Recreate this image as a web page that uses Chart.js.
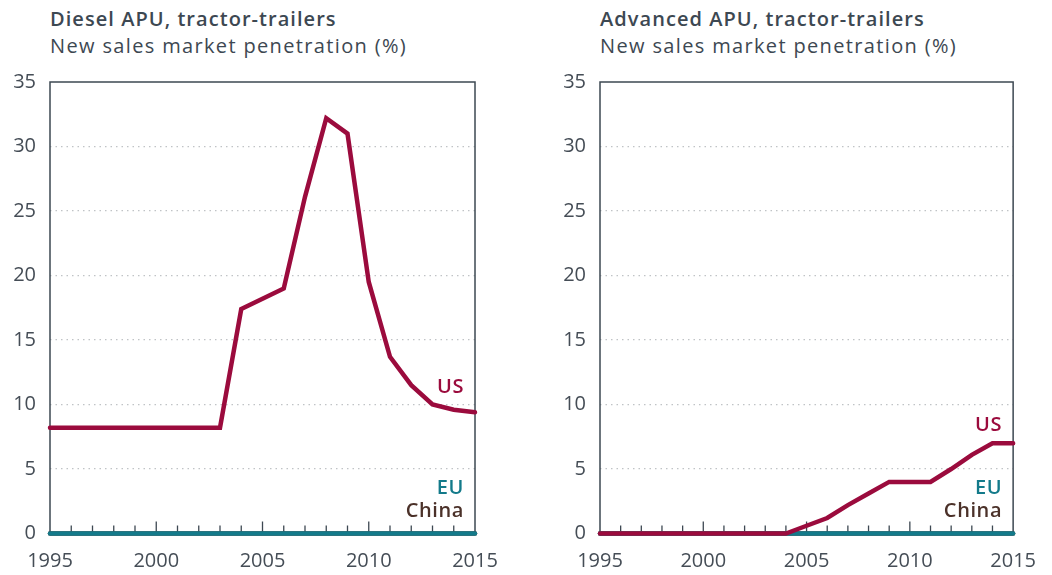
<!DOCTYPE html>
<html>
<head>
<meta charset="utf-8">
<script src="https://cdn.jsdelivr.net/npm/chart.js@4"></script>
<style>
  body { margin: 0; background: #fff; width: 1052px; height: 575px; overflow: hidden; position: relative; font-family: "Open Sans", sans-serif; }
  canvas { position: absolute; top: 0; }
  .ttl { position: absolute; color: #3d4852; font-size: 20px; line-height: 27px; white-space: nowrap; letter-spacing: 1.35px; }
  .ttl b { font-weight: 600; letter-spacing: 1.05px; }
</style>
</head>
<body>
<div class="ttl" style="left:50px;top:5px"><b>Diesel APU, tractor-trailers</b><br>New sales market penetration (%)</div>
<div class="ttl" style="left:600px;top:5px"><b>Advanced APU, tractor-trailers</b><br>New sales market penetration (%)</div>
<canvas id="dieselChart" width="520" height="575" style="left:0"></canvas>
<canvas id="advancedChart" width="502" height="575" style="left:550px"></canvas>
<script>
const years = ['1995','1996','1997','1998','1999','2000','2001','2002','2003','2004','2005',
               '2006','2007','2008','2009','2010','2011','2012','2013','2014','2015'];
const yTicks = [0, 5, 10, 15, 20, 25, 30, 35];

const dieselUS    = [8.2, 8.2, 8.2, 8.2, 8.2, 8.2, 8.2, 8.2, 8.2, 17.4, 18.2, 19.0, 26.1, 32.2, 31.0, 19.5, 13.7, 11.5, 10.0, 9.6, 9.4];
const dieselEU    = [0, 0, 0, 0, 0, 0, 0, 0, 0, 0, 0, 0, 0, 0, 0, 0, 0, 0, 0, 0, 0];
const dieselChina = [0, 0, 0, 0, 0, 0, 0, 0, 0, 0, 0, 0, 0, 0, 0, 0, 0, 0, 0, 0, 0];

const advancedUS    = [0, 0, 0, 0, 0, 0, 0, 0, 0, 0, 0.6, 1.2, 2.2, 3.1, 4.0, 4.0, 4.0, 5.0, 6.1, 7.0, 7.0];
const advancedEU    = [0, 0, 0, 0, 0, 0, 0, 0, 0, 0, 0, 0, 0, 0, 0, 0, 0, 0, 0, 0, 0];
const advancedChina = [0, 0, 0, 0, 0, 0, 0, 0, 0, 0, 0, 0, 0, 0, 0, 0, 0, 0, 0, 0, 0];

const RED = '#9b0b3d', TEAL = '#137a8a', BROWN = '#4b3129', AXIS = '#3d4852', TXT = '#454d56';

// frame around the plot + small year ticks pointing up from the baseline
const framePlugin = {
    id: 'frame',
    beforeDatasetsDraw(chart) {
        const { ctx, chartArea: a, scales: { x } } = chart;
        ctx.save();
        ctx.strokeStyle = AXIS;
        ctx.lineWidth = 1.5;
        ctx.strokeRect(a.left, a.top, a.right - a.left, a.bottom - a.top);
        ctx.lineWidth = 1.3;
        years.forEach((yr, i) => {
            if (i === 0 || i === years.length - 1) return;
            const px = x.getPixelForValue(i);
            const len = Number(yr) % 5 === 0 ? 12 : 8;
            ctx.beginPath();
            ctx.moveTo(px, a.bottom);
            ctx.lineTo(px, a.bottom - len);
            ctx.stroke();
        });
        ctx.restore();
    },
    afterDatasetsDraw(chart, args, opts) {
        const { ctx, chartArea: a, scales: { y } } = chart;
        ctx.save();
        ctx.font = '600 20px "Open Sans", sans-serif';
        ctx.letterSpacing = '0.6px';
        ctx.textAlign = 'right';
        ctx.textBaseline = 'middle';
        (opts.labels || []).forEach(l => {
            ctx.fillStyle = l.color;
            ctx.fillText(l.text, a.right - 11, y.getPixelForValue(l.at));
        });
        ctx.restore();
    }
};

function makeChart(id, us, eu, china, padRight, labels) {
    const ds = (data, color) => ({
        data: data,
        borderColor: color,
        borderWidth: 4.5,
        pointRadius: 0,
        tension: 0,
        borderCapStyle: 'round',
        borderJoinStyle: 'miter',
        clip: false
    });
    return new Chart(document.getElementById(id), {
        type: 'line',
        data: {
            labels: years,
            // first dataset is painted on top
            datasets: [ds(us, RED), ds(eu, TEAL), ds(china, BROWN)]
        },
        options: {
            responsive: false,
            animation: false,
            layout: { padding: { left: 0, right: padRight, top: 82, bottom: 0 } },
            plugins: {
                legend: { display: false },
                tooltip: { enabled: false },
                frame: { labels: labels }
            },
            scales: {
                x: {
                    grid: { display: false, drawTicks: false },
                    border: { display: false },
                    afterFit: s => { s.height = 41.5; },
                    ticks: {
                        autoSkip: false,
                        maxRotation: 0,
                        padding: 16,
                        color: TXT,
                        font: { family: '"Open Sans", sans-serif', size: 20 },
                        callback: (v, i) => Number(years[i]) % 5 === 0 ? years[i] : ''
                    }
                },
                y: {
                    min: 0,
                    max: 35,
                    afterFit: s => { s.width = 50; },
                    afterBuildTicks: s => { s.ticks = yTicks.map(v => ({ value: v })); },
                    grid: {
                        drawTicks: false,
                        lineWidth: 1.3,
                        color: c => (c.tick.value === 0 || c.tick.value === 35) ? 'rgba(0,0,0,0)' : '#c0c3c6'
                    },
                    border: { display: false, dash: [1.5, 4] },
                    ticks: {
                        padding: 14,
                        color: TXT,
                        font: { family: '"Open Sans", sans-serif', size: 20 }
                    }
                }
            }
        },
        plugins: [framePlugin]
    });
}

makeChart('dieselChart', dieselUS, dieselEU, dieselChina, 45, [
    { text: 'US', color: RED, at: 11.3 },
    { text: 'EU', color: TEAL, at: 3.5 },
    { text: 'China', color: BROWN, at: 1.75 }
]);
makeChart('advancedChart', advancedUS, advancedEU, advancedChina, 28, [
    { text: 'US', color: RED, at: 8.4 },
    { text: 'EU', color: TEAL, at: 3.5 },
    { text: 'China', color: BROWN, at: 1.75 }
]);
</script>
</body>
</html>
